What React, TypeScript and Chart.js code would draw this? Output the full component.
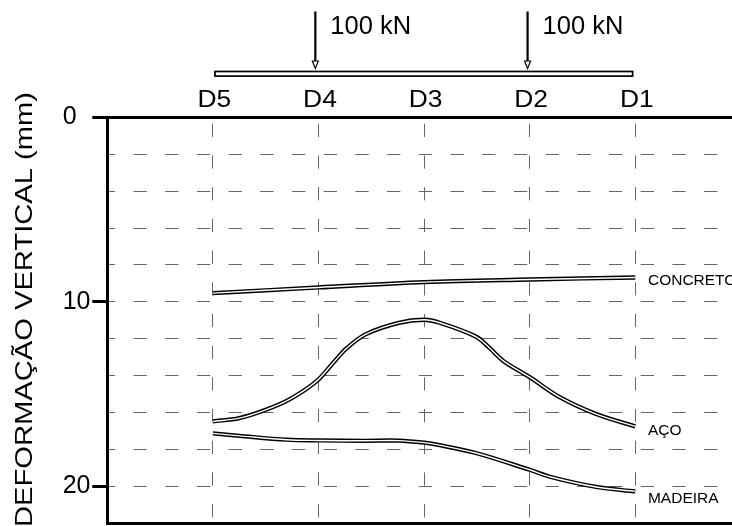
import { useEffect, useRef } from 'react';
import { Chart, registerables } from 'chart.js';

Chart.register(...registerables);

// ---- data ----
const stationLabels = ['D5', 'D4', 'D3', 'D2', 'D1'];
const stationPos = [1, 2, 3, 4, 5];
const yGridTicks = [0, 2, 4, 6, 8, 10, 12, 14, 16, 18, 20];
const yLabelTicks = [0, 10, 20];
const X_MIN = 0;
const X_MAX = 5.916;
const Y_MIN = 0;
const Y_MAX = 22;

const yTitle = 'DEFORMAÇÃO VERTICAL (mm)';

const concretoX = [1, 2, 3, 4, 5];
const concretoY = [9.53, 9.22, 8.93, 8.79, 8.68];

const acoX = [1.0, 1.25, 1.5, 1.73, 1.98, 2.14, 2.27, 2.45, 2.76, 3.0, 3.14, 3.49, 3.62, 3.75, 4.0, 4.28, 4.63, 5.0];
const acoY = [16.48, 16.3, 15.85, 15.27, 14.31, 13.3, 12.5, 11.75, 11.14, 10.97, 11.12, 11.88, 12.5, 13.2, 14.08, 15.15, 16.08, 16.75];

const madeiraX = [1.0, 1.25, 1.7, 2.0, 2.44, 2.76, 3.0, 3.12, 3.49, 4.0, 4.2, 4.63, 5.0];
const madeiraY = [17.13, 17.26, 17.47, 17.51, 17.53, 17.52, 17.63, 17.74, 18.19, 19.1, 19.49, 20.03, 20.27];

const seriesNames = ['CONCRETO', 'AÇO', 'MADEIRA'];
const seriesLabelX = 5.12;
const seriesLabelY = [8.85, 16.97, 20.67];

const loadX = [1.97, 3.98];
const loadText = '100 kN';
const beamX = [1.02, 4.975];

const FONT = '"Liberation Sans", Arial, Helvetica, sans-serif';

function pts(xs: number[], ys: number[]) {
  return xs.map((x, i) => ({ x, y: ys[i] }));
}

function drawText(
  ctx: CanvasRenderingContext2D,
  text: string,
  x: number,
  y: number,
  size: number,
  sx: number,
  align: CanvasTextAlign,
  baseline: CanvasTextBaseline
) {
  ctx.save();
  ctx.font = `${size}px ${FONT}`;
  ctx.fillStyle = '#000';
  ctx.textAlign = align;
  ctx.textBaseline = baseline;
  ctx.translate(x, y);
  ctx.scale(sx, 1);
  ctx.fillText(text, 0, 0);
  ctx.restore();
}

const decorPlugin = {
  id: 'decor',
  afterDraw(chart: any) {
    const ctx: CanvasRenderingContext2D = chart.ctx;
    const xs = chart.scales.x;
    const ys = chart.scales.y;
    const area = chart.chartArea;

    // station labels on top axis
    stationLabels.forEach((lab, i) => {
      drawText(ctx, lab, xs.getPixelForValue(stationPos[i]) + 1.5, area.top - 17.3, 24, 1.1, 'center', 'middle');
    });

    // y tick labels (left aligned)
    yLabelTicks.forEach((v) => {
      drawText(ctx, String(v), area.left - 44.6, ys.getPixelForValue(v), 25, 1.0, 'left', 'middle');
    });

    // y title rotated
    ctx.save();
    ctx.font = `24px ${FONT}`;
    const w = ctx.measureText(yTitle).width;
    ctx.restore();
    ctx.save();
    ctx.font = `24px ${FONT}`;
    ctx.fillStyle = '#000';
    ctx.translate(31.7, 309.5);
    ctx.rotate(-Math.PI / 2);
    ctx.scale(435 / w, 1);
    ctx.textAlign = 'center';
    ctx.textBaseline = 'alphabetic';
    ctx.fillText(yTitle, 0, 0);
    ctx.restore();

    // series labels
    seriesNames.forEach((n, i) => {
      drawText(ctx, n, xs.getPixelForValue(seriesLabelX), ys.getPixelForValue(seriesLabelY[i]), 15.5, 1.0, 'left', 'middle');
    });

    // beam
    const bx1 = xs.getPixelForValue(beamX[0]);
    const bx2 = xs.getPixelForValue(beamX[1]);
    ctx.save();
    ctx.strokeStyle = '#000';
    ctx.lineWidth = 1.7;
    ctx.strokeRect(bx1, 71.5, bx2 - bx1, 4.6);
    ctx.restore();

    // loads
    loadX.forEach((lx) => {
      const px = xs.getPixelForValue(lx);
      ctx.save();
      ctx.strokeStyle = '#000';
      ctx.lineWidth = 2.2;
      ctx.beginPath();
      ctx.moveTo(px, 11.5);
      ctx.lineTo(px, 61);
      ctx.stroke();
      ctx.lineWidth = 1.2;
      ctx.fillStyle = '#fff';
      ctx.beginPath();
      ctx.moveTo(px - 3, 61);
      ctx.lineTo(px + 3, 61);
      ctx.lineTo(px, 68.5);
      ctx.closePath();
      ctx.fill();
      ctx.stroke();
      ctx.restore();
      drawText(ctx, loadText, px + 15, 27.5, 25, 1.02, 'left', 'middle');
    });
  },
};

function makeSeries(data: { x: number; y: number }[], label: string) {
  return [
    {
      label: label + ' outer',
      data,
      borderColor: '#000',
      borderWidth: 4.3,
      pointRadius: 0,
      tension: 0.35,
      order: 1,
      xAxisID: 'x',
      yAxisID: 'y',
    },
    {
      label: label + ' inner',
      data,
      borderColor: '#fff',
      borderWidth: 1.4,
      pointRadius: 0,
      tension: 0.35,
      order: 0,
      xAxisID: 'x',
      yAxisID: 'y',
    },
  ];
}

export default function App() {
  const ref = useRef<HTMLCanvasElement | null>(null);

  useEffect(() => {
    if (!ref.current) return;
    const gridColor = '#666';
    const chart = new Chart(ref.current, {
      type: 'line',
      data: {
        datasets: [
          ...makeSeries(pts(concretoX, concretoY), seriesNames[0]),
          ...makeSeries(pts(acoX, acoY), seriesNames[1]),
          ...makeSeries(pts(madeiraX, madeiraY), seriesNames[2]),
        ],
      },
      options: {
        animation: false,
        responsive: false,
        devicePixelRatio: 1,
        layout: { padding: 0 },
        plugins: {
          legend: { display: false },
          title: { display: false },
          tooltip: { enabled: false },
        },
        scales: {
          x: {
            type: 'linear',
            position: 'top',
            min: X_MIN,
            max: X_MAX,
            afterBuildTicks: (s: any) => {
              s.ticks = stationPos.map((v) => ({ value: v }));
            },
            afterFit: (s: any) => {
              s.height = 117.3;
            },
            ticks: { display: false },
            grid: { color: gridColor, lineWidth: 1, drawTicks: false },
            border: { display: true, color: '#000', width: 3, dash: [13.3, 18.4], dashOffset: 27 },
          },
          x2: {
            type: 'linear',
            position: 'bottom',
            min: X_MIN,
            max: X_MAX,
            afterFit: (s: any) => {
              s.height = 2.7;
            },
            ticks: { display: false },
            grid: { display: false },
            border: { display: true, color: '#000', width: 3 },
          },
          y: {
            type: 'linear',
            position: 'left',
            reverse: true,
            min: Y_MIN,
            max: Y_MAX,
            afterBuildTicks: (s: any) => {
              s.ticks = yGridTicks.map((v) => ({ value: v }));
            },
            afterFit: (s: any) => {
              s.width = 107.3;
            },
            ticks: { display: false },
            grid: {
              color: gridColor,
              lineWidth: 1,
              drawTicks: true,
              tickLength: 15,
              tickColor: '#000',
              tickWidth: (c: any) => (c.tick && yLabelTicks.includes(c.tick.value) ? 3 : 0),
            },
            border: { display: true, color: '#000', width: 3, dash: [13.3, 18.4], dashOffset: 7.2 },
          },
        },
      },
      plugins: [decorPlugin],
    });
    return () => chart.destroy();
  }, []);

  return (
    <div style={{ position: 'fixed', left: 0, top: 0, width: 732, height: 526, background: '#fff' }}>
      <canvas ref={ref} width={732} height={526} />
    </div>
  );
}
